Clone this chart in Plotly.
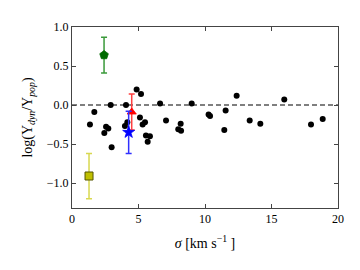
import plotly.graph_objects as go

# Main sample (black dots)
sigma = [4.86, 5.19, 2.91, 4.06, 6.62, 1.68, 1.35, 2.56, 2.73, 2.43, 2.98, 3.98,
         4.16, 5.11, 5.49, 5.31, 5.56, 5.86, 5.69, 7.07, 9.00, 8.17, 7.99, 8.20,
         10.27, 10.38, 11.55, 11.45, 12.38, 13.36, 14.16, 15.96, 17.97, 18.85]
log_ratio = [0.20, 0.14, 0.00, 0.00, 0.02, -0.09, -0.25, -0.28, -0.30, -0.36, -0.54, -0.27,
             -0.22, -0.16, -0.22, -0.25, -0.39, -0.40, -0.47, -0.20, 0.02, -0.24, -0.31, -0.33,
             -0.12, -0.14, -0.07, -0.32, 0.12, -0.20, -0.24, 0.07, -0.25, -0.18]

# Special objects with error bars
green_x, green_y, green_err = [2.41], [0.64], [0.23]
yellow_x, yellow_y, yellow_err = [1.28], [-0.91], [0.29]
red_x, red_y, red_err = [4.49], [-0.09], [0.23]
blue_x, blue_y, blue_err = [4.26], [-0.35], [0.27]

x_ticks = [0, 5, 10, 15, 20]
y_ticks = [1.0, 0.5, 0.0, -0.5, -1.0]

fig = go.Figure()

fig.add_trace(go.Scatter(x=[0, 20], y=[0, 0], mode="lines",
                         line=dict(color="black", width=1.2, dash="5px,3px"),
                         hoverinfo="skip"))

fig.add_trace(go.Scatter(x=sigma, y=log_ratio, mode="markers",
                         marker=dict(color="black", size=6)))

def err_trace(x, y, e, color, ecolor, symbol, size, lw=0.8, linecolor=None):
    return go.Scatter(
        x=x, y=y, mode="markers",
        error_y=dict(type="data", array=e, color=ecolor, thickness=1.5, width=3),
        marker=dict(color=color, size=size, symbol=symbol,
                    line=dict(color=linecolor or color, width=lw)))

fig.add_trace(err_trace(green_x, green_y, green_err, "#006b00", "#3a9a3a", "pentagon", 9))
fig.add_trace(err_trace(yellow_x, yellow_y, yellow_err, "#bfbf00", "#d8d850", "square", 8, 1, "#555500"))
fig.add_trace(err_trace(red_x, red_y, red_err, "#ff0000", "#ff4040", "triangle-up", 8))
fig.add_trace(err_trace(blue_x, blue_y, blue_err, "#0000ff", "#3030ff", "star", 9))

axis_common = dict(showgrid=False, zeroline=False, showline=True, linecolor="#444",
                   linewidth=1, mirror="ticks", ticks="inside", ticklen=4,
                   tickcolor="#444", tickwidth=1,
                   tickfont=dict(family="Liberation Serif", size=12, color="black"))

fig.update_layout(
    width=360, height=270,
    margin=dict(l=64, r=30, t=14, b=70),
    paper_bgcolor="white", plot_bgcolor="white",
    showlegend=False,
    xaxis=dict(range=[0, 20], tickvals=x_ticks,
               title=dict(text="<i>σ</i> [km s<sup>−1</sup> ]",
                          font=dict(family="Liberation Serif", size=14, color="black"),
                          standoff=12),
               **axis_common),
    yaxis=dict(range=[-1.32, 1.0], tickvals=y_ticks, tickformat=".1f",
               title=dict(text="log(Υ<sub><i>dyn</i></sub>/Υ<sub><i>pop</i></sub>)",
                          font=dict(family="Liberation Serif", size=14, color="black"),
                          standoff=10),
               **axis_common),
)

fig.write_html("out.html")
